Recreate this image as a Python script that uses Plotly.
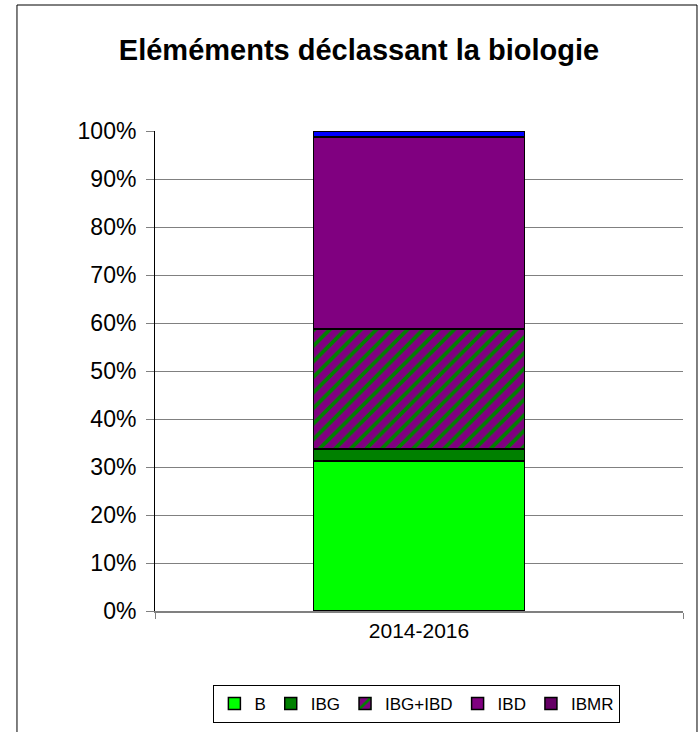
import plotly.graph_objects as go

# Données (parts en %)
periodes = ["2014-2016"]
elements = ["B", "IBG", "IBG+IBD", "IBD", "IBMR"]
parts = {
    "B": [31.25],
    "IBG": [2.5],
    "IBG+IBD": [25.0],
    "IBD": [40.0],
    "IBMR": [1.25],
}
couleurs = {
    "B": "#00FF00",
    "IBG": "#008000",
    "IBG+IBD": "#800080",
    "IBD": "#800080",
    "IBMR": "#0000FF",
}
couleur_legende_ibmr = "#660066"

FONT = "Liberation Sans, Arial, sans-serif"

fig = go.Figure()
for nom in elements:
    marker = dict(color=couleurs[nom], line=dict(color="black", width=1.5))
    if nom == "IBG+IBD":
        marker["pattern"] = dict(shape="/", fgcolor="#008000", bgcolor="#800080",
                                 fgopacity=1, size=11, solidity=0.35)
    fig.add_trace(go.Bar(
        x=periodes, y=parts[nom], name=nom, marker=marker, width=0.4,
        showlegend=(nom != "IBMR"),
    ))

# entrée de légende IBMR (couleur différente de la barre, comme dans Excel)
fig.add_trace(go.Bar(
    x=periodes, y=[None], name="IBMR", width=0.4,
    marker=dict(color=couleur_legende_ibmr, line=dict(color="black", width=1.5)),
))

fig.update_layout(
    width=699, height=732,
    barmode="stack",
    paper_bgcolor="white", plot_bgcolor="white",
    margin=dict(l=155, r=16, t=131, b=121, autoexpand=False),
    font=dict(family=FONT, color="black", size=20),
    title=dict(text="<b>Eléméments déclassant la biologie</b>",
               x=0.5136, xref="container", xanchor="center",
               y=0.932, yref="container", yanchor="middle",
               font=dict(size=29, family=FONT, color="black")),
    xaxis=dict(showline=True, linecolor="#808080", linewidth=2,
               ticks="outside", tickson="boundaries", ticklen=6,
               tickcolor="#808080", tickfont=dict(size=21),
               showgrid=False),
    yaxis=dict(range=[0, 100], dtick=10, ticksuffix="%",
               showline=True, linecolor="black", linewidth=1,
               ticks="outside", ticklen=8, tickcolor="#808080",
               gridcolor="#808080", gridwidth=1, zeroline=False,
               ticklabelstandoff=5, tickfont=dict(size=23)),
    legend=dict(orientation="h", x=0.496, xanchor="center",
                y=-0.154, yanchor="top", traceorder="normal",
                bordercolor="black", borderwidth=1,
                font=dict(size=17), itemwidth=30),
    shapes=[dict(type="rect", xref="paper", yref="paper",
                 x0=-0.2614, x1=1.0265, y0=-0.3, y1=1.2625,
                 line=dict(color="black", width=1), layer="below")],
)

fig.write_html("out.html", config={"displayModeBar": False},
               post_script="document.body.style.margin='0';")
